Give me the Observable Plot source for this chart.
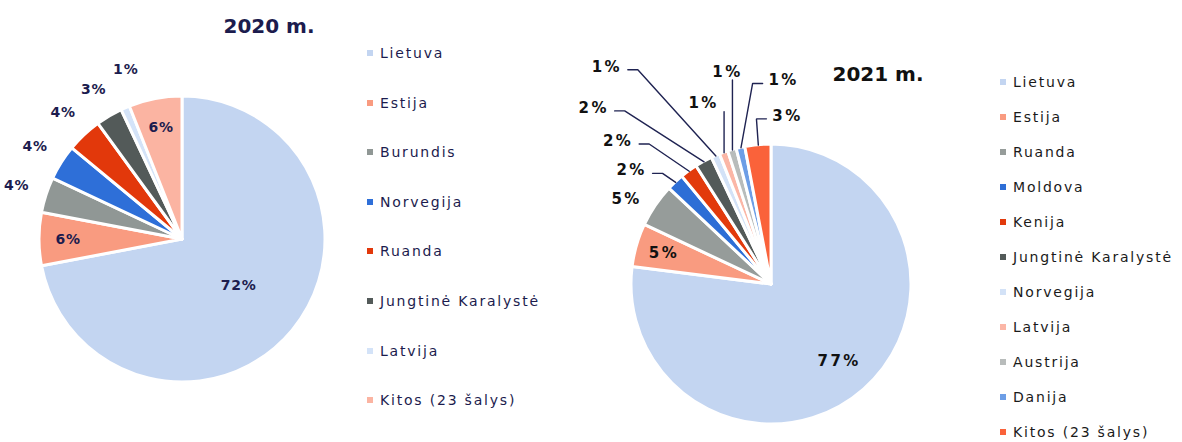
<!DOCTYPE html>
<html>
<head>
<meta charset="utf-8">
<script src="https://cdn.jsdelivr.net/npm/d3@7"></script>
<script src="https://cdn.jsdelivr.net/npm/@observablehq/plot@0.6"></script>
<style>
  body { margin: 0; background: #fff; }
  #root { position: relative; width: 1182px; height: 442px; overflow: hidden; background: #fff;
          font-family: "DejaVu Sans", Verdana, sans-serif; }
  .title { position: absolute; font-weight: bold; font-size: 20px; transform: translate(-50%, -50%);
           white-space: nowrap; line-height: 24px; }
  .leg { position: absolute; font-size: 14px; line-height: 18px; letter-spacing: 1.8px; white-space: nowrap; }
  .leg .sw { position: absolute; left: -13px; top: 6px; width: 6px; height: 6px; }
  .pie { position: absolute; top: 0; }
</style>
</head>
<body>
<div id="root"></div>
<script>
// ---------- data ----------
const categories2020 = ["Lietuva", "Estija", "Burundis", "Norvegija", "Ruanda", "Jungtinė Karalystė", "Latvija", "Kitos (23 šalys)"];
const shares2020 = [72, 6, 4, 4, 4, 3, 1, 6];
const colors2020 = ["#c3d5f1", "#f99b80", "#909795", "#2e6fd8", "#e2380b", "#535a59", "#d4e3f8", "#fbb4a2"];

const categories2021 = ["Lietuva", "Estija", "Ruanda", "Moldova", "Kenija", "Jungtinė Karalystė", "Norvegija", "Latvija", "Austrija", "Danija", "Kitos (23 šalys)"];
const shares2021 = [77, 5, 5, 2, 2, 2, 1, 1, 1, 1, 3];
const colors2021 = ["#c3d5f1", "#f99b80", "#969c9a", "#2d6ed6", "#e23a0c", "#535a59", "#d3e2f7", "#fbb6a6", "#b8bcbb", "#6d9ee6", "#fa623a"];

const titles = ["2020 m.", "2021 m."];

// manual label placement of labels moved in the original: [radius factor, angle in degrees]
const labelLayout2020 = {
  "Latvija": [1.25, 341.5]
};
const labelLayout2021 = {
  "Ruanda": [1.20, 300.4],
  "Moldova": [1.29, 309.2],
  "Kenija": [1.50, 313.1],
  "Jungtinė Karalystė": [1.79, 314.8],
  "Norvegija": [1.95, 322.9],
  "Latvija": [1.38, 339.4],
  "Austrija": [1.55, 348.3],
  "Danija": [1.46, 3.4],
  "Kitos (23 šalys)": [1.21, 5.4]
};

// ---------- drawing ----------
const root = document.getElementById("root");
const RAD = Math.PI / 180;

function drawPie(o) {
  const total = d3.sum(o.vals);
  let acc = 0;
  const slices = o.cats.map((name, i) => {
    const a0 = acc / total * 360; acc += o.vals[i]; const a1 = acc / total * 360;
    return {name, value: o.vals[i], i, a0, a1, mid: (a0 + a1) / 2};
  });
  const px = v => v / o.r; // pixels -> pie units

  const labels = [];
  const leaders = [];
  for (const s of slices) {
    const text = s.value + "%";
    if (o.inside(s)) {
      const f = s.i === 0 ? o.bigLabelRadius : 0.8;
      labels.push({text, x: f * Math.sin(s.mid * RAD), y: f * Math.cos(s.mid * RAD)});
      continue;
    }
    const fo = o.outsideRadius || 1.2;
    const dflt = {x: fo * Math.sin(s.mid * RAD), y: fo * Math.cos(s.mid * RAD)};
    let L = dflt;
    if (o.layout && o.layout[s.name]) {
      const [f, a] = o.layout[s.name];
      L = {x: f * Math.sin(a * RAD), y: f * Math.cos(a * RAD)};
    }
    labels.push({text, x: L.x, y: L.y});
    const moved = Math.hypot(L.x - dflt.x, L.y - dflt.y) * o.r;
    if (moved > 20) {
      const E = {x: Math.sin(s.mid * RAD), y: Math.cos(s.mid * RAD)};
      if (Math.abs(E.x - L.x) < px(25)) {
        leaders.push({name: s.name, x: E.x, y: L.y - px(8)}, {name: s.name, x: E.x, y: E.y});
      } else {
        const side = Math.sign(E.x - L.x);
        const sx = L.x + side * px(21), sy = L.y - px(3);
        leaders.push({name: s.name, x: sx, y: sy},
                     {name: s.name, x: sx + side * px(10), y: sy},
                     {name: s.name, x: E.x, y: E.y});
      }
    }
  }

  const svg = Plot.plot({
    width: o.width,
    height: 442,
    margin: 0,
    style: {fontFamily: "DejaVu Sans, Verdana, sans-serif", letterSpacing: o.labelSpacing + "px", background: "transparent", overflow: "visible"},
    x: {domain: [-1, 1], range: [o.cx - o.r, o.cx + o.r], axis: null},
    y: {domain: [-1, 1], range: [o.cy + o.r, o.cy - o.r], axis: null},
    color: {type: "ordinal", domain: o.cats, range: o.colors},
    marks: [
      Plot.dot(slices, {
        x: () => 0, y: () => 0, fill: "name",
        render(index, scales, values) {
          const x0 = scales.x(0), y0 = scales.y(0), R = scales.x(1) - scales.x(0);
          const arc = d3.arc().innerRadius(0).outerRadius(R);
          const g = d3.create("svg:g").attr("transform", `translate(${x0},${y0})`);
          g.selectAll("path").data(index).join("path")
            .attr("d", i => arc({startAngle: slices[i].a0 * RAD, endAngle: slices[i].a1 * RAD}))
            .attr("fill", i => values.fill[i])
            .attr("stroke", "#fff")
            .attr("stroke-width", 3)
            .attr("stroke-linejoin", "round");
          return g.node();
        }
      }),
      Plot.line(leaders, {x: "x", y: "y", z: "name", stroke: o.leaderStroke, strokeWidth: 1.4, strokeLinejoin: "miter", curve: "linear"}),
      Plot.text(labels, {x: "x", y: "y", text: "text", fill: o.labelFill, fontSize: o.labelSize, fontWeight: "bold"})
    ]
  });
  svg.classList.add("pie");
  svg.style.left = o.left + "px";
  root.appendChild(svg);
}

function drawTitle(text, x, y, color) {
  const d = document.createElement("div");
  d.className = "title";
  d.style.left = x + "px"; d.style.top = y + "px"; d.style.color = color;
  d.textContent = text;
  root.appendChild(d);
}

function drawLegend(cats, colors, x, y0, step, color) {
  cats.forEach((c, i) => {
    const d = document.createElement("div");
    d.className = "leg";
    d.style.left = x + "px";
    d.style.top = (y0 + i * step - 9) + "px";
    d.style.color = color;
    d.textContent = c;
    const s = document.createElement("span");
    s.className = "sw";
    s.style.background = colors[i];
    d.appendChild(s);
    root.appendChild(d);
  });
}

const navy = "#1c1c4e";

drawPie({
  cats: categories2020, vals: shares2020, colors: colors2020,
  left: 0, width: 360, cx: 182, cy: 239, r: 143,
  inside: s => s.value >= 6, bigLabelRadius: 0.51, outsideRadius: 1.22, layout: labelLayout2020,
  labelFill: navy, labelSize: 14, labelSpacing: 0.8, leaderStroke: navy
});
drawPie({
  cats: categories2021, vals: shares2021, colors: colors2021,
  left: 560, width: 420, cx: 771 - 560, cy: 284, r: 140,
  inside: s => s.i < 2, bigLabelRadius: 0.73, layout: labelLayout2021,
  labelFill: "#111", labelSize: 15, labelSpacing: 2.4, leaderStroke: "#1f2352"
});

drawTitle(titles[0], 269, 26, navy);
drawTitle(titles[1], 878, 74, "#111");

drawLegend(categories2020, colors2020, 380, 53, 49.6, navy);
drawLegend(categories2021, colors2021, 1013, 82, 35, "#1a1a1a");
</script>
</body>
</html>
